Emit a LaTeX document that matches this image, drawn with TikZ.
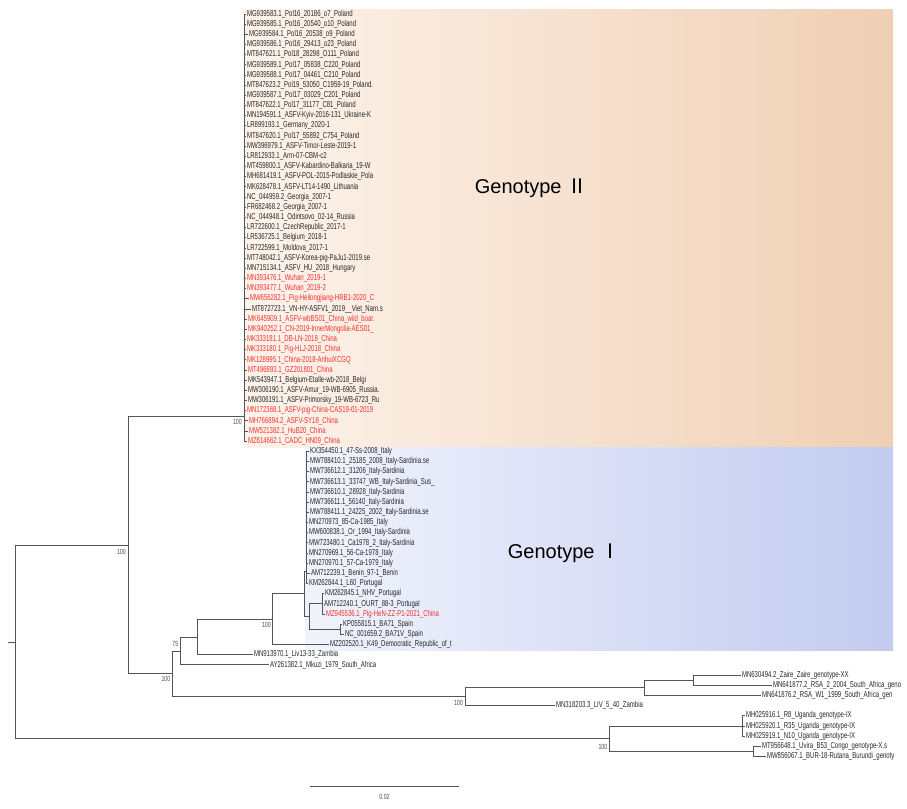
\documentclass[tikz,border=0pt]{standalone}
\usepackage{fontspec}
\usepackage{tikz}
\newfontfamily\tipfont[FakeStretch=0.70]{Liberation Sans}
\newfontfamily\gtfont{Liberation Sans}
\newfontfamily\romfont{Noto Sans CJK SC}
\definecolor{tipgray}{RGB}{40,40,40}
\definecolor{tipred}{RGB}{238,50,50}
\definecolor{branchgray}{RGB}{85,85,85}
\definecolor{gtwoleft}{RGB}{253,243,235}
\definecolor{gtworight}{RGB}{240,207,180}
\definecolor{goneleft}{RGB}{241,243,252}
\definecolor{goneright}{RGB}{194,203,240}

\begin{document}
\begin{tikzpicture}[
    x=1pt, y={(0pt,-10.17pt)},
    tip/.style={anchor=west, inner sep=0.8pt, text=tipgray, font=\tipfont\fontsize{8.6}{9}\selectfont},
    chn/.style={tip, text=tipred},
    boot/.style={anchor=east, inner sep=0pt, text=black!70, font=\tipfont\fontsize{7.5}{8}\selectfont},
    branch/.style={draw=branchgray, line width=0.8pt},
    gtlabel/.style={inner sep=0pt, text=black, font=\gtfont\fontsize{20}{22}\selectfont}
]
    \useasboundingbox (0,-1.377) rectangle (907,78.17);
    \shade [left color=gtwoleft, right color=gtworight] (244,-0.49) rectangle (893,42.58);
    \shade [left color=goneleft, right color=goneright] (305,42.58) rectangle (893,62.54);

    \node [gtlabel] (gtwolabel) at (531,17.1) {Genotype \romfont Ⅱ};
    \node [gtlabel] (gonelabel) at (564,53.0) {Genotype \romfont Ⅰ};

    % genotype II
    \node [tip] (t0) at (246,0) {MG939583.1\_Pol16\_20186\_o7\_Poland};
    \node [tip] (t1) at (246,1) {MG939585.1\_Pol16\_20540\_o10\_Poland};
    \node [tip] (t2) at (248,2) {MG939584.1\_Pol16\_20538\_o9\_Poland};
    \node [tip] (t3) at (246,3) {MG939586.1\_Pol16\_29413\_o23\_Poland};
    \node [tip] (t4) at (246,4) {MT847621.1\_Pol18\_28298\_O111\_Poland};
    \node [tip] (t5) at (246,5) {MG939589.1\_Pol17\_05838\_C220\_Poland};
    \node [tip] (t6) at (246,6) {MG939588.1\_Pol17\_04461\_C210\_Poland};
    \node [tip] (t7) at (246,7) {MT847623.2\_Pol19\_53050\_C1959-19\_Poland.};
    \node [tip] (t8) at (246,8) {MG939587.1\_Pol17\_03029\_C201\_Poland};
    \node [tip] (t9) at (246,9) {MT847622.1\_Pol17\_31177\_C81\_Poland};
    \node [tip] (t10) at (246,10) {MN194591.1\_ASFV-Kyiv-2016-131\_Ukraine-K};
    \node [tip] (t11) at (246,11) {LR899193.1\_Germany\_2020-1};
    \node [tip] (t12) at (246,12) {MT847620.1\_Pol17\_55892\_C754\_Poland};
    \node [tip] (t13) at (246,13) {MW396979.1\_ASFV-Timor-Leste-2019-1};
    \node [tip] (t14) at (246,14) {LR812933.1\_Arm-07-CBM-c2};
    \node [tip] (t15) at (246,15) {MT459800.1\_ASFV-Kabardino-Balkaria\_19-W};
    \node [tip] (t16) at (246,16) {MH681419.1\_ASFV-POL-2015-Podlaskie\_Pola};
    \node [tip] (t17) at (246,17) {MK628478.1\_ASFV-LT14-1490\_Lithuania};
    \node [tip] (t18) at (246,18) {NC\_044959.2\_Georgia\_2007-1};
    \node [tip] (t19) at (246,19) {FR682468.2\_Georgia\_2007-1};
    \node [tip] (t20) at (246,20) {NC\_044948.1\_Odintsovo\_02-14\_Russia};
    \node [tip] (t21) at (246,21) {LR722600.1\_CzechRepublic\_2017-1};
    \node [tip] (t22) at (246,22) {LR536725.1\_Belgium\_2018-1};
    \node [tip] (t23) at (246,23) {LR722599.1\_Moldova\_2017-1};
    \node [tip] (t24) at (246,24) {MT748042.1\_ASFV-Korea-pig-PaJu1-2019.se};
    \node [tip] (t25) at (246,25) {MN715134.1\_ASFV\_HU\_2018\_Hungary};
    \node [chn] (t26) at (246,26) {MN393476.1\_Wuhan\_2019-1};
    \node [chn] (t27) at (246,27) {MN393477.1\_Wuhan\_2019-2};
    \node [chn] (t28) at (249,28) {MW656282.1\_Pig-Heilongjiang-HRB1-2020\_C};
    \node [tip] (t29) at (251,29) {MT872723.1\_VN-HY-ASFV1\_2019\_\_Viet\_Nam.s};
    \node [chn] (t30) at (247,30) {MK645909.1\_ASFV-wbBS01\_China\_wild\_boar.};
    \node [chn] (t31) at (247,31) {MK940252.1\_CN-2019-InnerMongolia-AES01\_};
    \node [chn] (t32) at (246,32) {MK333181.1\_DB-LN-2018\_China};
    \node [chn] (t33) at (246,33) {MK333180.1\_Pig-HLJ-2018\_China};
    \node [chn] (t34) at (246,34) {MK128995.1\_China-2018-AnhuiXCGQ};
    \node [chn] (t35) at (247,35) {MT496893.1\_GZ201801\_China};
    \node [tip] (t36) at (247,36) {MK543947.1\_Belgium-Etalle-wb-2018\_Belgi};
    \node [tip] (t37) at (247,37) {MW306190.1\_ASFV-Amur\_19-WB-6905\_Russia.};
    \node [tip] (t38) at (247,38) {MW306191.1\_ASFV-Primorsky\_19-WB-6723\_Ru};
    \node [chn] (t39) at (246,39) {MN172368.1\_ASFV-pig-China-CAS19-01-2019};
    \node [chn] (t40) at (248,40) {MH766894.2\_ASFV-SY18\_China};
    \node [chn] (t41) at (248,41) {MW521382.1\_HuB20\_China};
    \node [chn] (t42) at (247,42) {MZ614662.1\_CADC\_HN09\_China};

    % genotype I
    \node [tip] (t43) at (309,43) {KX354450.1\_47-Ss-2008\_Italy};
    \node [tip] (t44) at (309,44) {MW788410.1\_25185\_2008\_Italy-Sardinia.se};
    \node [tip] (t45) at (309,45) {MW736612.1\_31206\_Italy-Sardinia};
    \node [tip] (t46) at (309,46) {MW736613.1\_33747\_WB\_Italy-Sardinia\_Sus\_};
    \node [tip] (t47) at (309,47) {MW736610.1\_28928\_Italy-Sardinia};
    \node [tip] (t48) at (309,48) {MW736611.1\_56140\_Italy-Sardinia};
    \node [tip] (t49) at (309,49) {MW788411.1\_24225\_2002\_Italy-Sardinia.se};
    \node [tip] (t50) at (308,50) {MN270973\_85-Ca-1985\_Italy};
    \node [tip] (t51) at (308,51) {MW600838.1\_Or\_1994\_Italy-Sardinia};
    \node [tip] (t52) at (308,52) {MW723480.1\_Ca1978\_2\_Italy-Sardinia};
    \node [tip] (t53) at (308,53) {MN270969.1\_56-Ca-1978\_Italy};
    \node [tip] (t54) at (308,54) {MN270970.1\_57-Ca-1979\_Italy};
    \node [tip] (t55) at (310,55) {AM712239.1\_Benin\_97-1\_Benin};
    \node [tip] (t56) at (308,56) {KM262844.1\_L60\_Portugal};
    \node [tip] (t57) at (324,57) {KM262845.1\_NHV\_Portugal};
    \node [tip] (t58) at (323,58) {AM712240.1\_OURT\_88-3\_Portugal};
    \node [chn] (t59) at (325,59) {MZ945536.1\_Pig-HeN-ZZ-P1-2021\_China};
    \node [tip] (t60) at (342,60) {KP055815.1\_BA71\_Spain};
    \node [tip] (t61) at (344,61) {NC\_001659.2\_BA71V\_Spain};
    \node [tip] (t62) at (329,62) {MZ202520.1\_K49\_Democratic\_Republic\_of\_t};

    % other genotypes
    \node [tip] (t63) at (253,63) {MN913970.1\_Liv13-33\_Zambia};
    \node [tip] (t64) at (269,64) {AY261382.1\_Mkuzi\_1979\_South\_Africa};
    \node [tip] (t65) at (741,65) {MN630494.2\_Zaire\_Zaire\_genotype-XX};
    \node [tip] (t66) at (772,66) {MN641877.2\_RSA\_2\_2004\_South\_Africa\_geno};
    \node [tip] (t67) at (761,67) {MN641876.2\_RSA\_W1\_1999\_South\_Africa\_gen};
    \node [tip] (t68) at (555,68) {MN318203.3\_LIV\_5\_40\_Zambia};
    \node [tip] (t69) at (745,69) {MH025916.1\_R8\_Uganda\_genotype-IX};
    \node [tip] (t70) at (745,70) {MH025920.1\_R35\_Uganda\_genotype-IX};
    \node [tip] (t71) at (745,71) {MH025919.1\_N10\_Uganda\_genotype-IX};
    \node [tip] (t72) at (761,72) {MT956648.1\_Uvira\_B53\_Congo\_genotype-X.s};
    \node [tip] (t73) at (766,73) {MW856067.1\_BUR-18-Rutana\_Burundi\_genoty};

    \coordinate (stub) at (8,61.75);
    \coordinate (root) at (15,61.75);
    \coordinate (gall) at (128,52.25);
    \coordinate (gtwo) at (244,39.6);
    \coordinate (gafr) at (172,64.88);
    \coordinate (gmk) at (180,62.63);
    \coordinate (gliv) at (197,61.25);
    \coordinate (gk49) at (272,59.5);
    \coordinate (gone) at (304,57);
    \coordinate (gcomb) at (306,54.77);
    \coordinate (gwest) at (309,59.25);
    \coordinate (gpor) at (322,58);
    \coordinate (gspa) at (340,60.5);
    \coordinate (gfar) at (465,67.13);
    \coordinate (grsa) at (644,66.25);
    \coordinate (gzr) at (693,65.5);
    \coordinate (gcen) at (609,71.25);
    \coordinate (guga) at (742,70);
    \coordinate (gcb) at (753,72.5);

    \path [branch] (stub) -- (root);
    \path [branch] (root) |- (gall) (root) |- (gcen);
    \path [branch] (gall) |- (gtwo) (gall) |- (gafr);
    \path [branch] (gtwo) |- (t0) (gtwo) |- (t1) (gtwo) |- (t2) (gtwo) |- (t3) (gtwo) |- (t4)
        (gtwo) |- (t5) (gtwo) |- (t6) (gtwo) |- (t7) (gtwo) |- (t8) (gtwo) |- (t9)
        (gtwo) |- (t10) (gtwo) |- (t11) (gtwo) |- (t12) (gtwo) |- (t13) (gtwo) |- (t14)
        (gtwo) |- (t15) (gtwo) |- (t16) (gtwo) |- (t17) (gtwo) |- (t18) (gtwo) |- (t19)
        (gtwo) |- (t20) (gtwo) |- (t21) (gtwo) |- (t22) (gtwo) |- (t23) (gtwo) |- (t24)
        (gtwo) |- (t25) (gtwo) |- (t26) (gtwo) |- (t27) (gtwo) |- (t28) (gtwo) |- (t29)
        (gtwo) |- (t30) (gtwo) |- (t31) (gtwo) |- (t32) (gtwo) |- (t33) (gtwo) |- (t34)
        (gtwo) |- (t35) (gtwo) |- (t36) (gtwo) |- (t37) (gtwo) |- (t38) (gtwo) |- (t39)
        (gtwo) |- (t40) (gtwo) |- (t41) (gtwo) |- (t42);
    \path [branch] (gafr) |- (gmk) (gafr) |- (gfar);
    \path [branch] (gmk) |- (gliv) (gmk) |- (t64);
    \path [branch] (gliv) |- (gk49) (gliv) |- (t63);
    \path [branch] (gk49) |- (gone) (gk49) |- (t62);
    \path [branch] (gone) |- (gcomb) (gone) |- (gwest);
    \path [branch] (gcomb) |- (t43) (gcomb) |- (t44) (gcomb) |- (t45) (gcomb) |- (t46)
        (gcomb) |- (t47) (gcomb) |- (t48) (gcomb) |- (t49) (gcomb) |- (t50) (gcomb) |- (t51)
        (gcomb) |- (t52) (gcomb) |- (t53) (gcomb) |- (t54) (gcomb) |- (t55) (gcomb) |- (t56);
    \path [branch] (gwest) |- (gpor) (gwest) |- (gspa);
    \path [branch] (gpor) |- (t57) (gpor) |- (t58) (gpor) |- (t59);
    \path [branch] (gspa) |- (t60) (gspa) |- (t61);
    \path [branch] (gfar) |- (grsa) (gfar) |- (t68);
    \path [branch] (grsa) |- (gzr) (grsa) |- (t67);
    \path [branch] (gzr) |- (t65) (gzr) |- (t66);
    \path [branch] (gcen) |- (guga) (gcen) |- (gcb);
    \path [branch] (guga) |- (t69) (guga) |- (t70) (guga) |- (t71);
    \path [branch] (gcb) |- (t72) (gcb) |- (t73);

    \node [boot] (bsgtwo) at (242,40.12) {100};
    \node [boot] (bsgall) at (126,52.9) {100};
    \node [boot] (bsgk49) at (271,60.08) {100};
    \node [boot] (bsgmk) at (178.5,61.95) {75};
    \node [boot] (bsgafr) at (170.5,65.39) {100};
    \node [boot] (bsgfar) at (463,67.75) {100};
    \node [boot] (bsgcen) at (607.5,72.07) {100};

    \coordinate (sbleft) at (310,75.91);
    \coordinate (sbright) at (459,75.91);
    \path [branch] (sbleft) -- (sbright);
    \node [boot, anchor=center] (sblabel) at (384.5,76.99) {0.02};
\end{tikzpicture}
\end{document}
